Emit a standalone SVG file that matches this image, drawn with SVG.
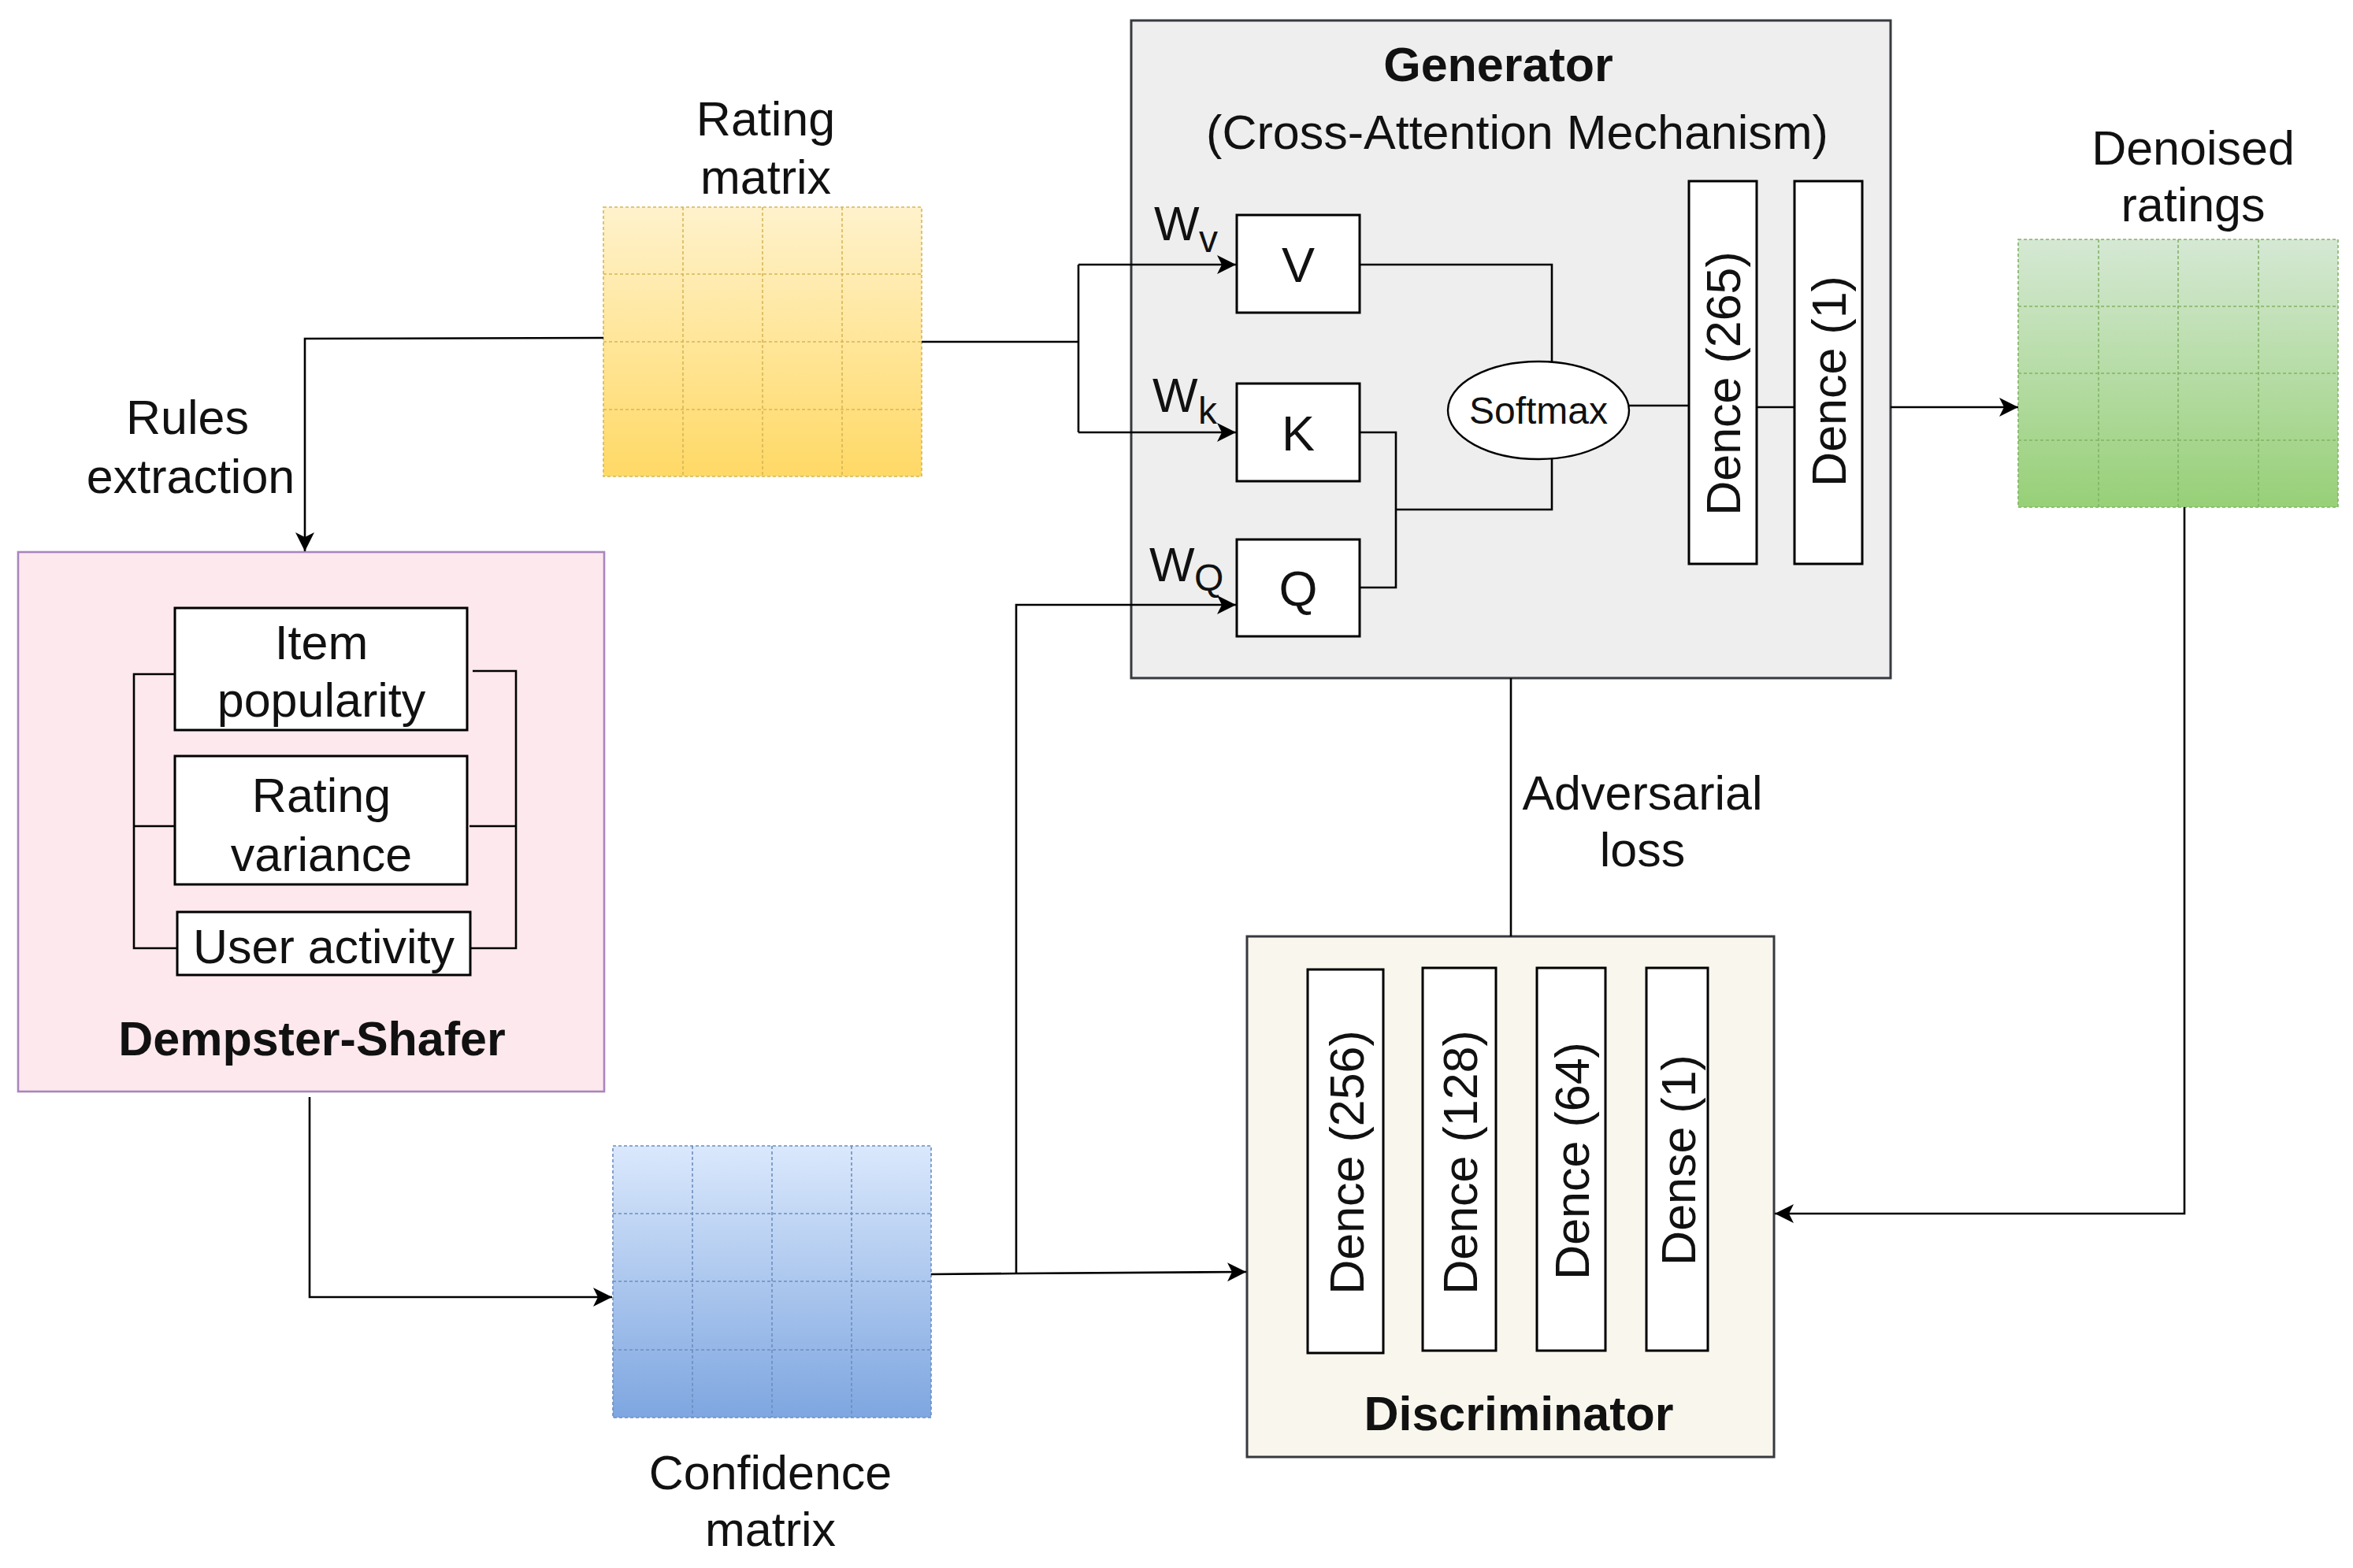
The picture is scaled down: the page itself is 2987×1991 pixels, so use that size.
<svg xmlns="http://www.w3.org/2000/svg" width="2987" height="1991" viewBox="0 0 2987 1991">
<defs>
<linearGradient id="gY" x1="0" y1="0" x2="0" y2="1"><stop offset="0" stop-color="#fff2cc"/><stop offset="1" stop-color="#ffd966"/></linearGradient>
<linearGradient id="gG" x1="0" y1="0" x2="0" y2="1"><stop offset="0" stop-color="#d5e8d4"/><stop offset="1" stop-color="#97d077"/></linearGradient>
<linearGradient id="gB" x1="0" y1="0" x2="0" y2="1"><stop offset="0" stop-color="#dae8fc"/><stop offset="1" stop-color="#7ea6e0"/></linearGradient>
<marker id="arr" markerUnits="userSpaceOnUse" markerWidth="26" markerHeight="26" refX="24" refY="12" orient="auto" viewBox="0 0 26 26">
<path d="M0,0 L24,12 L0,24 L6,12 Z" fill="#000"/>
</marker>
<style>
text{font-family:"Liberation Sans",Arial,Helvetica,sans-serif;fill:#111;}
.t{font-size:61px;text-anchor:middle;}
.b{font-size:61px;font-weight:bold;text-anchor:middle;}
.s{font-size:48px;}
.w{font-size:61px;}
.box{fill:#fff;stroke:#000;stroke-width:3;}
.ln{fill:none;stroke:#000;stroke-width:2.6;}
.la{fill:none;stroke:#000;stroke-width:2.6;marker-end:url(#arr);}
.gy{fill:none;stroke:#d6b656;stroke-width:1.6;stroke-dasharray:4 3;}
.gg{fill:none;stroke:#82b366;stroke-width:1.6;stroke-dasharray:4 3;}
.gb{fill:none;stroke:#6c8ebf;stroke-width:1.6;stroke-dasharray:4 3;}
</style>
</defs>
<rect width="2987" height="1991" fill="#fff"/>

<g id="rating-matrix">
<rect x="766" y="263" width="404" height="342" fill="url(#gY)" stroke="#d6b656" stroke-width="1.6" stroke-dasharray="4 3"/>
<path class="gy" d="M867,263 V605 M968,263 V605 M1069,263 V605 M766,348 H1170 M766,434 H1170 M766,520 H1170"/>
<text class="t" x="972" y="172">Rating</text>
<text class="t" x="972" y="246">matrix</text>
</g>

<g id="rules-label">
<text class="t" x="238" y="551">Rules</text>
<text class="t" x="242" y="626">extraction</text>
</g>

<g id="dempster-shafer">
<rect x="23" y="701" width="744" height="685" fill="#fde8ed" stroke="#a985bd" stroke-width="2.6"/>
<rect class="box" x="222" y="772" width="371" height="155"/>
<text class="t" x="408" y="837">Item</text>
<text class="t" x="408" y="910">popularity</text>
<rect class="box" x="222" y="960" width="371" height="163"/>
<text class="t" x="408" y="1031">Rating</text>
<text class="t" x="408" y="1106">variance</text>
<rect class="box" x="225" y="1158" width="372" height="80"/>
<text class="t" x="411" y="1223">User activity</text>
<path class="ln" d="M222,856 L170,856 L170,1204 L225,1204 M170,1049 L222,1049"/>
<path class="ln" d="M600,852 L655,852 L655,1204 L597,1204 M596,1049 L655,1049"/>
<text class="b" x="396" y="1340">Dempster-Shafer</text>
</g>

<g id="confidence-matrix">
<rect x="778" y="1455" width="404" height="345" fill="url(#gB)" stroke="#6c8ebf" stroke-width="1.6" stroke-dasharray="4 3"/>
<path class="gb" d="M879,1455 V1800 M980,1455 V1800 M1081,1455 V1800 M778,1541 H1182 M778,1627 H1182 M778,1714 H1182"/>
<text class="t" x="978" y="1891">Confidence</text>
<text class="t" x="978" y="1963">matrix</text>
</g>

<g id="generator">
<rect x="1436" y="26" width="964" height="835" fill="#eeeeee" stroke="#36393d" stroke-width="3"/>
<text class="b" x="1902" y="103">Generator</text>
<text class="t" x="1926" y="189">(Cross-Attention Mechanism)</text>
<text class="w" x="1465" y="305">W</text><text class="s" x="1522" y="320">v</text>
<text class="w" x="1463" y="523">W</text><text class="s" x="1521" y="538">k</text>
<text class="w" x="1459" y="738">W</text><text class="s" x="1516" y="750">Q</text>
<rect class="box" x="1570" y="273" width="156" height="124"/>
<text class="t" x="1648" y="358" style="font-size:63px">V</text>
<rect class="box" x="1570" y="487" width="156" height="124"/>
<text class="t" x="1648" y="572" style="font-size:63px">K</text>
<rect class="box" x="1570" y="685" width="156" height="123"/>
<text class="t" x="1648" y="769" style="font-size:63px">Q</text>
<ellipse cx="1953" cy="521" rx="115" ry="62" fill="#fff" stroke="#000" stroke-width="2.4"/>
<text class="t" x="1953" y="538" style="font-size:48px">Softmax</text>
<rect class="box" x="2144" y="230" width="86" height="486"/>
<text class="t" transform="translate(2209,487) rotate(-90)">Dence (265)</text>
<rect class="box" x="2278" y="230" width="86" height="486"/>
<text class="t" transform="translate(2343,484) rotate(-90)">Dence (1)</text>
</g>

<g id="denoised-ratings">
<rect x="2562" y="304" width="406" height="340" fill="url(#gG)" stroke="#82b366" stroke-width="1.6" stroke-dasharray="4 3"/>
<path class="gg" d="M2664,304 V644 M2765,304 V644 M2867,304 V644 M2562,389 H2968 M2562,474 H2968 M2562,559 H2968"/>
<text class="t" x="2784" y="209">Denoised</text>
<text class="t" x="2784" y="281">ratings</text>
</g>

<g id="adversarial-label">
<text class="t" x="2085" y="1028">Adversarial</text>
<text class="t" x="2085" y="1100">loss</text>
</g>

<g id="discriminator">
<rect x="1583" y="1189" width="669" height="661" fill="#f9f7ed" stroke="#36393d" stroke-width="3"/>
<rect class="box" x="1660" y="1231" width="96" height="487"/>
<text class="t" transform="translate(1731,1476) rotate(-90)">Dence (256)</text>
<rect class="box" x="1806" y="1229" width="93" height="486"/>
<text class="t" transform="translate(1875,1476) rotate(-90)">Dence (128)</text>
<rect class="box" x="1951" y="1229" width="87" height="486"/>
<text class="t" transform="translate(2017,1474) rotate(-90)">Dence (64)</text>
<rect class="box" x="2090" y="1229" width="78" height="486"/>
<text class="t" transform="translate(2152,1473) rotate(-90)">Dense (1)</text>
<text class="b" x="1928" y="1816">Discriminator</text>
</g>

<g id="connectors">
<path class="la" d="M766,429 L387,430 L387,700"/>
<path class="ln" d="M1170,434 L1369,434 M1369,336 L1369,549"/>
<path class="la" d="M1369,336 L1569,336"/>
<path class="la" d="M1369,549 L1569,549"/>
<path class="ln" d="M1726,336 L1970,336 L1970,459"/>
<path class="ln" d="M1726,549 L1772,549 L1772,746 L1726,746 M1772,647 L1970,647 L1970,583"/>
<path class="ln" d="M2068,515 L2144,515 M2230,517 L2278,517"/>
<path class="la" d="M2400,517 L2562,517"/>
<path class="la" d="M2773,644 L2773,1541 L2253,1541"/>
<path class="ln" d="M1918,861 L1918,1189"/>
<path class="la" d="M393,1393 L393,1647 L777,1647"/>
<path class="la" d="M1182,1618 L1290,1617 L1582,1615"/>
<path class="la" d="M1290,1617 L1290,768 L1569,768"/>
</g>
</svg>
